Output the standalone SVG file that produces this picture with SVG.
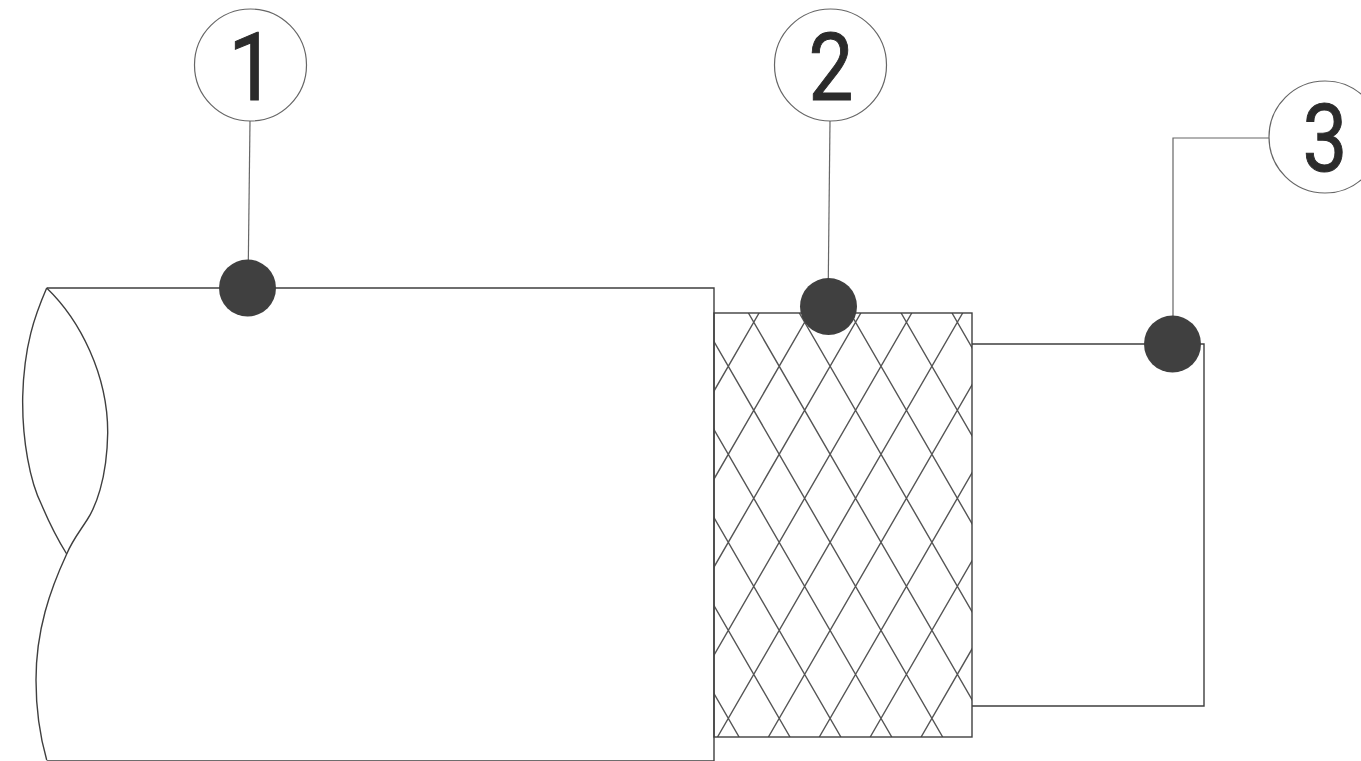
<svg xmlns="http://www.w3.org/2000/svg" width="1361" height="761" viewBox="0 0 1361 761">
<style>
.ln{fill:none;stroke:#3f3f3f;stroke-width:1.4}
.mesh{fill:none;stroke:#555;stroke-width:1.4}
.thin{fill:none;stroke:#666;stroke-width:1.2}
.ring{fill:#fff;stroke:#666;stroke-width:1.2}
.dot{fill:#404040}
.num{font-family:Roboto,"Liberation Sans",sans-serif;font-size:94px;font-weight:400;fill:#2b2b2b;stroke:#2b2b2b;stroke-width:1;text-anchor:middle}
</style>
<defs><clipPath id="braid"><rect x="714" y="313" width="258" height="424"/></clipPath></defs>
<rect width="1361" height="761" fill="#fff"/>
<g id="cable-jacket">
<path class="ln" d="M46.7 288H714V761H46.7"/>
<path class="ln" d="M46.7 288C35 315 24 345 22.7 396.7C22 440 30 482 41.7 505C48 520 58 540 66.7 554"/>
<path class="ln" d="M46.7 288C80 320 108 375 107.7 433C107 480 95 508 87 520C80 531 72 541 66.7 554"/>
<path class="ln" d="M66.7 554C50 590 36 630 36 680C36 715 41 740 46.7 760"/>
</g>
<g id="cable-braid">
<g clip-path="url(#braid)"><path class="mesh" d="M493.9 313L739.1 737M544.8 313L790 737M595.7 313L840.9 737M646.6 313L891.8 737M697.5 313L942.7 737M748.4 313L993.6 737M799.3 313L1044.5 737M850.2 313L1095.4 737M901.1 313L1146.3 737M952 313L1197.2 737M759.1 313L513.9 737M810 313L564.8 737M860.9 313L615.7 737M911.8 313L666.6 737M962.7 313L717.5 737M1013.6 313L768.4 737M1064.5 313L819.3 737M1115.4 313L870.2 737M1166.3 313L921.1 737"/></g>
<rect class="ln" x="714" y="313" width="258" height="424"/>
</g>
<g id="cable-core"><path class="ln" d="M972 344H1204V706H972"/></g>
<g id="connectors">
<path class="thin" d="M250 121L248 288"/>
<path class="thin" d="M830 121L828 306"/>
<path class="thin" d="M1269 138H1173V344"/>
</g>
<g id="node-1">
<circle class="ring" cx="250.500" cy="65" r="56"/>
<circle class="dot" cx="247.500" cy="288" r="28.500"/>
<text class="num" transform="translate(252 100) scale(.9 1)">1</text>
</g>
<g id="node-2">
<circle class="ring" cx="830.500" cy="65" r="56"/>
<circle class="dot" cx="828.500" cy="306.500" r="28.500"/>
<text class="num" transform="translate(831 100) scale(.85 1)">2</text>
</g>
<g id="node-3">
<circle class="ring" cx="1325" cy="137" r="56"/>
<circle class="dot" cx="1172.500" cy="344" r="28.500"/>
<text class="num" transform="translate(1325 171) scale(.85 1)">3</text>
</g>
</svg>
